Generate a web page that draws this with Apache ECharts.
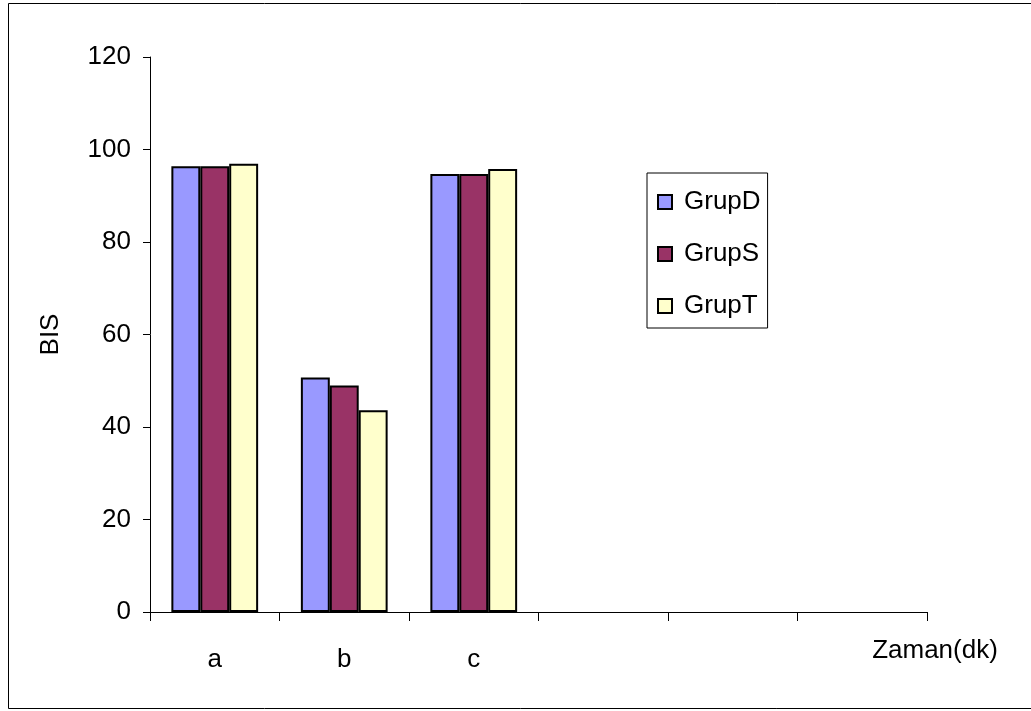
<!DOCTYPE html>
<html>
<head>
<meta charset="utf-8">
<script src="https://cdn.jsdelivr.net/npm/echarts@6/dist/echarts.min.js"></script>
<style>html,body{margin:0;padding:0;background:#fff;}#c{width:1031px;height:711px;}</style>
</head>
<body>
<div id="c"></div>
<script>
const categories = ['a', 'b', 'c', '', '', ''];
const grupD = [96.4, 50.7, 94.7];
const grupS = [96.4, 49.0, 94.7];
const grupT = [96.9, 43.6, 95.8];
const yTicks = { min: 0, max: 120, interval: 20 };

const chart = echarts.init(document.getElementById('c'), null, { renderer: 'canvas' });
const font = 'Liberation Sans, Arial, sans-serif';
const fs = 26;
const barStyle = (c) => ({ color: c, borderColor: '#000', borderWidth: 2 });
chart.setOption({
  animation: false,
  backgroundColor: '#fff',
  textStyle: { fontFamily: font },
  graphic: [{
    type: 'rect', shape: { x: 8.5, y: 3.5, width: 1030, height: 705 },
    style: { fill: 'none', stroke: '#000', lineWidth: 1 }, silent: true
  }],
  grid: { left: 150, right: 104, top: 57, bottom: 99 },
  legend: {
    orient: 'vertical', left: 647, top: 173,
    borderColor: '#000', borderWidth: 1,
    padding: [16, 7, 9, 10],
    itemWidth: 14, itemHeight: 14, itemGap: 26,
    icon: 'rect',
    textStyle: { fontSize: fs, lineHeight: 26, color: '#000', fontFamily: font, padding: [0, 0, 0, 7] },
    data: ['GrupD', 'GrupS', 'GrupT']
  },
  xAxis: {
    type: 'category', data: categories,
    axisLine: { lineStyle: { color: '#000', width: 1 } },
    axisTick: { show: true, length: 9, lineStyle: { color: '#000' } },
    axisLabel: { fontSize: fs, color: '#000', margin: 35, fontFamily: font },
    name: 'Zaman(dk)', nameLocation: 'end', nameGap: 8,
    nameTextStyle: { fontSize: fs, color: '#000', align: 'center', verticalAlign: 'top', padding: [26, 0, 0, 0], fontFamily: font }
  },
  yAxis: {
    type: 'value', min: yTicks.min, max: yTicks.max, interval: yTicks.interval,
    axisLine: { show: true, lineStyle: { color: '#000', width: 1 } },
    axisTick: { show: true, length: 7, lineStyle: { color: '#000' } },
    splitLine: { show: false },
    axisLabel: { fontSize: fs, color: '#000', margin: 19, fontFamily: font },
    name: 'BIS', nameLocation: 'middle', nameGap: 86,
    nameTextStyle: { fontSize: fs, color: '#000', fontFamily: font }
  },
  series: [
    { name: 'GrupD', type: 'bar', data: grupD, itemStyle: barStyle('#9999FF'), barGap: '0%', barCategoryGap: '33%' },
    { name: 'GrupS', type: 'bar', data: grupS, itemStyle: barStyle('#993366') },
    { name: 'GrupT', type: 'bar', data: grupT, itemStyle: barStyle('#FFFFCC') }
  ]
});
</script>
</body>
</html>
